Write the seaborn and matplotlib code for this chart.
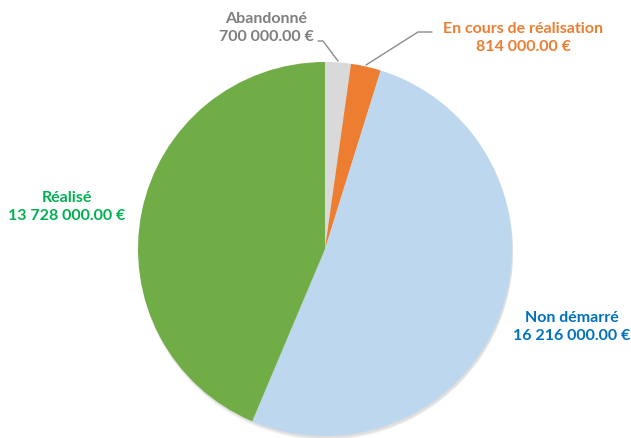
import matplotlib
matplotlib.use("Agg")
import seaborn as sns
from matplotlib import pyplot as plt
from matplotlib.patches import Circle

# statuts du budget (ordre horaire depuis le haut)
statuts = ["Abandonné", "En cours de réalisation", "Non démarré", "Réalisé"]
montants = [700000, 814000, 16216000, 13728000]
couleurs = ["#D9D9D9", "#ED7D31", "#BDD7EE", "#70AD47"]
couleurs_txt = ["#7F7F7F", "#ED7D31", "#0070C0", "#00B050"]
montants_txt = ["700 000.00 €", "814 000.00 €", "16 216 000.00 €", "13 728 000.00 €"]

sns.set_theme(style="white")
plt.rcParams['font.family'] = ['Lato', 'DejaVu Sans']

W, H = 631, 439
fig = plt.figure(figsize=(W / 100, H / 100), dpi=100)
ax = fig.add_axes([0, 0, 1, 1])

cx, cy, r = 325, H - 250, 187

# ombre legere sous le camembert
for k, a in enumerate([0.25, 0.2, 0.15]):
    ax.add_patch(Circle((cx + 1, cy - 2 - k), r, color="#bdbdbd", alpha=a, lw=0, zorder=0))

wedges, _ = ax.pie(montants, colors=couleurs, startangle=90, counterclock=False,
                   center=(cx, cy), radius=r, frame=True,
                   wedgeprops=dict(linewidth=0))
ax.set_xlim(0, W)
ax.set_ylim(0, H)
ax.set_aspect("equal")
ax.axis("off")

# positions des etiquettes (pixels)
pos_txt = [(266, 28), (523, 38), (572, 327), (67, 207)]
for i, (x, y) in enumerate(pos_txt):
    ax.text(x, H - y, statuts[i] + "\n" + montants_txt[i], ha="center", va="center",
            color=couleurs_txt[i], fontsize=11.5, fontweight="bold", linespacing=1.4)

# lignes de rappel
ax.plot([318, 323, 338], [H - 42, H - 42, H - 62], color="#8c8c8c", lw=1)
ax.plot([432, 418, 366], [H - 33, H - 33, H - 66], color="#8c8c8c", lw=1)

fig.savefig("out.png", dpi=100)
